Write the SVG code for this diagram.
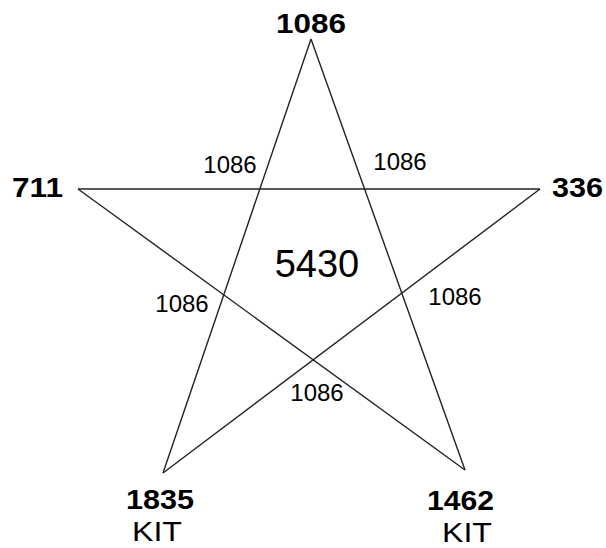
<svg xmlns="http://www.w3.org/2000/svg" width="606" height="548" viewBox="0 0 606 548">
<style>
.ln{stroke:#222;stroke-width:1.4;fill:none;stroke-linejoin:miter}
text{font-family:"Liberation Sans",Arial,sans-serif;fill:#000;text-anchor:middle}
.b{font-weight:bold;font-size:28px}
.s{font-size:24px}
.k{font-size:28px}
.c{font-size:38px}
</style>
<rect width="606" height="548" fill="#fff"/>
<g id="connectors">
<line class="ln" x1="311" y1="39" x2="163" y2="473"/>
<line class="ln" x1="163" y1="473" x2="540" y2="189"/>
<line class="ln" x1="540" y1="189" x2="78" y2="189"/>
<line class="ln" x1="78" y1="189" x2="465" y2="470"/>
<line class="ln" x1="465" y1="470" x2="311" y2="39"/>
</g>
<g id="node-top"><text class="b" x="311" y="33" textLength="70" lengthAdjust="spacingAndGlyphs">1086</text></g>
<g id="node-left"><text class="b" x="37.5" y="197" textLength="51" lengthAdjust="spacingAndGlyphs">711</text></g>
<g id="node-right"><text class="b" x="577.5" y="197" textLength="51" lengthAdjust="spacingAndGlyphs">336</text></g>
<g id="node-bl"><text class="b" x="160" y="509" textLength="68" lengthAdjust="spacingAndGlyphs">1835</text><text class="k" x="157" y="541" textLength="50" lengthAdjust="spacingAndGlyphs">KIT</text></g>
<g id="node-br"><text class="b" x="460.5" y="510" textLength="67" lengthAdjust="spacingAndGlyphs">1462</text><text class="k" x="467" y="542" textLength="50" lengthAdjust="spacingAndGlyphs">KIT</text></g>
<g id="center"><text class="c" x="317" y="277">5430</text></g>
<g id="edge-labels">
<text class="s" x="230" y="173">1086</text>
<text class="s" x="400" y="170">1086</text>
<text class="s" x="182" y="312">1086</text>
<text class="s" x="455" y="305">1086</text>
<text class="s" x="317" y="401">1086</text>
</g>
</svg>
